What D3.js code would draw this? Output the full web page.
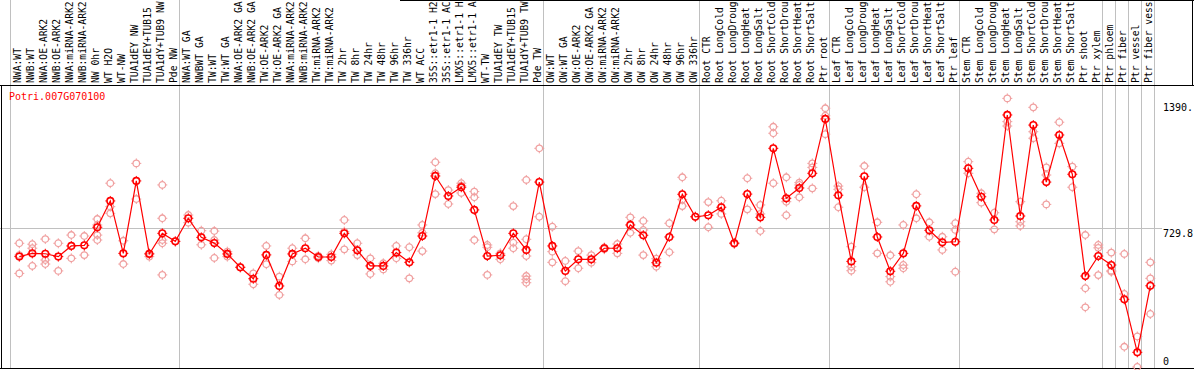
<!DOCTYPE html>
<html>
<head>
<meta charset="utf-8">
<script src="https://cdn.jsdelivr.net/npm/d3@7"></script>
<style>
  body { margin: 0; background: #fff; }
  svg { display: block; }
  text { font-family: "DejaVu Sans Mono", "Liberation Mono", monospace; font-size: 10px; }
</style>
</head>
<body>
<svg width="1194" height="370"></svg>
<script>
// gene shown in the top-left corner
var geneId = "Potri.007G070100";

var sampleLabels = [
  "NWA:WT", "NWB:WT", "NWA:OE-ARK2", "NWB:OE-ARK2", "NWA:miRNA-ARK2", "NWB:miRNA-ARK2",
  "NW 0hr", "WT H2O", "WT-NW", "TUA1dEY NW", "TUA1dEY+TUB15 NW", "TUA1dY+TUB9 NW", "Pde NW",
  "NWA:WT GA", "NWBWT GA", "TW:WT", "TW:WT GA", "NWA:OE-ARK2 GA", "NWB:OE-ARK2 GA",
  "TW:OE-ARK2", "TW:OE-ARK2 GA", "NWA:miRNA-ARK2", "NWB:miRNA-ARK2", "TW:miRNA-ARK2",
  "TW:miRNA-ARK2", "TW 2hr", "TW 8hr", "TW 24hr", "TW 48hr", "TW 96hr", "TW 336hr",
  "WT ACC", "35S::etr1-1 H2O", "35S::etr1-1 ACC", "LMX5::etr1-1 H2O", "LMX5::etr1-1 ACC",
  "WT-TW", "TUA1dEY TW", "TUA1dEY+TUB15 TW", "TUA1dY+TUB9 TW", "Pde TW",
  "OW:WT", "OW:WT GA", "OW:OE-ARK2", "OW:OE-ARK2 GA", "OW:miRNA-ARK2", "OW:miRNA-ARK2",
  "OW 2hr", "OW 8hr", "OW 24hr", "OW 48hr", "OW 96hr", "OW 336hr",
  "Root CTR", "Root LongCold", "Root LongDrought", "Root LongHeat", "Root LongSalt",
  "Root ShortCold", "Root ShortDrought", "Root ShortHeat", "Root ShortSalt", "Ptr root",
  "Leaf CTR", "Leaf LongCold", "Leaf LongDrought", "Leaf LongHeat", "Leaf LongSalt",
  "Leaf ShortCold", "Leaf ShortDrought", "Leaf ShortHeat", "Leaf ShortSalt", "Ptr leaf",
  "Stem CTR", "Stem LongCold", "Stem LongDrought", "Stem LongHeat", "Stem LongSalt",
  "Stem ShortCold", "Stem ShortDrought", "Stem ShortHeat", "Stem ShortSalt",
  "Ptr shoot", "Ptr xylem", "Ptr phloem", "Ptr fiber", "Ptr vessel", "Ptr fiber vessel"
];

var meanValues = [
  579, 596, 594, 579, 635, 638, 733, 871, 596, 976,
  593, 701, 659, 780, 680, 650, 593, 523, 463, 588,
  425, 593, 623, 577, 577, 701, 612, 530, 530, 600,
  549, 687, 1002, 897, 943, 824, 582, 586, 701, 614,
  970, 635, 504, 565, 565, 623, 623, 745, 691, 547,
  682, 906, 788, 796, 838, 649, 907, 785, 1147, 885,
  939, 1016, 1301, 901, 554, 1000, 682, 502, 596, 845,
  717, 654, 657, 1042, 893, 771, 1322, 792, 1269, 970,
  1217, 1011, 477, 582, 535, 355, 77, 426
];

var replicateValues = [
  [649, 587, 491], [644, 623, 530], [671, 561, 540], [649, 504], [692, 570], [687, 587],
  [776, 745, 692, 666], [964, 841, 806], [662, 540], [1068, 881], [596, 579],
  [955, 780, 666, 649, 483], [659], [797, 757], [715, 641], [713, 666, 572], [605, 579],
  [523], [491, 434], [635, 539], [474, 378], [623, 554], [675, 565], [583, 571], [591, 558],
  [771, 710, 617], [649, 587], [570, 488], [544, 512], [635, 570], [628, 465],
  [745, 704, 608], [1074, 1016, 907], [928, 855], [964, 951, 913], [920, 890, 666],
  [640, 628, 483], [596, 565], [844, 652, 623], [981, 670, 582, 477, 460, 442],
  [1147, 788], [736, 605, 549], [556, 450], [608, 518], [587, 547], [627, 618],
  [645, 596], [785, 704], [766, 719, 587], [568, 526], [754, 602], [995, 878, 844],
  [788], [865, 733], [872, 803], [652, 646], [990, 827], [850, 803, 713],
  [1260, 1226, 964], [995, 867, 796], [967, 955, 890], [1068, 1047, 937],
  [1357, 1318, 1221], [949, 932, 838], [631, 526, 505], [1054, 943], [759, 596],
  [586, 474, 447], [745, 535, 518], [906, 780], [759, 683], [683, 614], [754, 719, 500],
  [1077, 1016], [911, 862], [809, 722], [1409, 1287, 1264], [867, 762, 740],
  [1362, 1234, 1200], [1047, 1007, 853], [1284, 1173], [1051, 943], [692, 413, 313],
  [640, 625, 482], [600, 505, 500], [593, 383, 106], [160, 0], [549, 465, 278]
];

// column indexes where a grey separator is drawn
var groupEdges = [0, 13, 41, 53, 63, 73, 84, 85, 86, 87, 88];

var yTickValues = [0, 729.8, 1390];
var yTickLabels = ["0", "729.8", "1390."];

var svg = d3.select("svg"),
    W = +svg.attr("width"),
    headerH = 85,
    bottomY = 368,
    maxChars = 14;   // the header only has room for this many characters

var n = sampleLabels.length;
var col = d3.scaleLinear().domain([0, n]).range([10.5, 10.5 + n * 13]);
function px(i) { return col(i) + 8.8; }
var y = d3.scaleLinear().domain([0, 1390]).range([367, 102]);

// grey separators running through header and plot
svg.append("g").selectAll("line")
    .data(groupEdges)
  .enter().append("line")
    .attr("x1", function(d) { return col(d); })
    .attr("x2", function(d) { return col(d); })
    .attr("y1", 0).attr("y2", bottomY)
    .attr("stroke", "#c0c0c0")
    .attr("shape-rendering", "crispEdges");

// mid reference line
svg.append("line")
    .attr("x1", 0).attr("x2", 1162)
    .attr("y1", Math.round(y(yTickValues[1])) + 0.5)
    .attr("y2", Math.round(y(yTickValues[1])) + 0.5)
    .attr("stroke", "#c0c0c0")
    .attr("shape-rendering", "crispEdges");

// frame
var frame = svg.append("g").attr("stroke", "#000").attr("shape-rendering", "crispEdges");
frame.append("line").attr("x1", 0).attr("x2", W).attr("y1", headerH + 0.5).attr("y2", headerH + 0.5);
frame.append("line").attr("x1", 0).attr("x2", W).attr("y1", bottomY + 0.5).attr("y2", bottomY + 0.5);
frame.append("line").attr("x1", 1.5).attr("x2", 1.5).attr("y1", headerH).attr("y2", bottomY);
frame.append("line").attr("x1", 400).attr("x2", W).attr("y1", 0.5).attr("y2", 0.5);
frame.append("line").attr("x1", W - 1.5).attr("x2", W - 1.5).attr("y1", 0).attr("y2", headerH);

// sample labels, reading upward, cut to the header height like the original
svg.append("g").selectAll("text")
    .data(sampleLabels)
  .enter().append("text")
    .attr("transform", function(d, i) { return "translate(" + (px(i) + 1.8) + "," + (headerH - 2) + ") rotate(-90)"; })
    .attr("fill", "#000")
    .style("font-size", "9.7px")
    .text(function(d) { return d.length > maxChars ? d.slice(0, maxChars).trim() : d; });

svg.append("text")
    .attr("x", 9).attr("y", 100)
    .attr("fill", "#ff0000")
    .text(geneId);

// value labels on the right
svg.append("g").selectAll("text")
    .data(yTickValues)
  .enter().append("text")
    .attr("x", 1163)
    .attr("y", function(d, i) { return i === 0 ? y(d) - 2 : y(d) + 9; })
    .attr("fill", "#000")
    .text(function(d, i) { return yTickLabels[i]; });

function marker(sel, color, sw) {
  sel.append("circle").attr("r", 3.3)
      .attr("fill", "none").attr("stroke", color).attr("stroke-width", sw);
  sel.append("path")
      .attr("d", "M0,-3.3V-5M0,3.3V5M-3.3,0H-5M3.3,0H5")
      .attr("stroke", color).attr("stroke-width", 1);
}

// replicates
var reps = [];
replicateValues.forEach(function(arr, i) {
  arr.forEach(function(v) { reps.push({i: i, v: v}); });
});
svg.append("g").selectAll("g")
    .data(reps)
  .enter().append("g")
    .attr("transform", function(d) { return "translate(" + px(d.i) + "," + y(d.v) + ")"; })
    .call(marker, "#f0a0a0", 1.3);

var line = d3.line()
    .x(function(d, i) { return px(i); })
    .y(function(d) { return y(d); });

svg.append("path")
    .datum(meanValues)
    .attr("fill", "none")
    .attr("stroke", "#ff0000")
    .attr("stroke-width", 1.2)
    .attr("d", line);

svg.append("g").selectAll("g")
    .data(meanValues)
  .enter().append("g")
    .attr("transform", function(d, i) { return "translate(" + px(i) + "," + y(d) + ")"; })
    .call(marker, "#ff0000", 1.6);
</script>
</body>
</html>
